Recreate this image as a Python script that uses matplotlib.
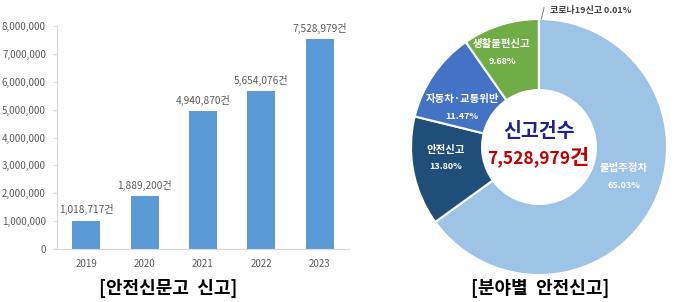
import numpy as np
import matplotlib
matplotlib.use('Agg')
import matplotlib.pyplot as plt

plt.rcParams['font.family'] = ['Noto Sans CJK KR', 'DejaVu Sans']

# left: yearly reports
years = ['2019', '2020', '2021', '2022', '2023']
reports = [1018717, 1889200, 4940870, 5654076, 7528979]

# right: share by field (2023)
fields = ['불법주정차', '안전신고', '자동차·교통위반', '생활불편신고', '코로나19신고']
shares = [65.03, 13.80, 11.47, 9.68, 0.01]
colors = ['#9DC3E6', '#1F4E79', '#4472C4', '#70AD47', '#FFC000']

fig = plt.figure(figsize=(6.8, 3.02), dpi=100)

# ---- bar chart
ax = fig.add_axes([57 / 680, 53 / 302, 292 / 680, 223 / 302])
x = np.arange(len(years))
ax.bar(x, reports, width=0.48, color='#5B9BD5')
for xi, v in zip(x, reports):
    ax.text(xi, v + 200000, f'{v:,}건', ha='center', va='bottom',
            fontsize=7.3, color='#595959')
ax.set_xlim(-0.5, 4.5)
ax.set_ylim(0, 8000000)
ax.set_yticks(range(0, 8000001, 1000000))
ax.set_yticklabels([f'{t:,}' for t in range(0, 8000001, 1000000)])
ax.set_xticks(x)
ax.set_xticklabels(years)
ax.tick_params(axis='y', labelsize=7, colors='#595959', length=3,
               color='#D9D9D9', pad=5)
ax.tick_params(axis='x', labelsize=7, colors='#595959', length=0, pad=7)
for s in ['top', 'right']:
    ax.spines[s].set_visible(False)
for s in ['left', 'bottom']:
    ax.spines[s].set_color('#D9D9D9')
fig.text(168 / 680, 1 - 288 / 302, '[안전신문고  신고]', ha='center', va='center',
         fontsize=13, fontweight='bold')

# ---- donut
ax2 = fig.add_axes([411 / 680, 27 / 302, 256 / 680, 256 / 302])
wedges, _ = ax2.pie(shares, colors=colors, startangle=90, counterclock=False,
                    radius=1, wedgeprops=dict(width=0.555, edgecolor='white',
                                              linewidth=1.5))
ax2.set_xlim(-1, 1)
ax2.set_ylim(-1, 1)
ax2.axis('off')

# label anchor for each slice (centre of the two-line block)
label_pos = [(0.66, -0.23), (-0.73, -0.085), (-0.60, 0.31), (-0.29, 0.74)]
for (px, py), name, sh in zip(label_pos, fields[:-1], shares[:-1]):
    ax2.text(px, py + 0.065, name, ha='center', va='center', color='white',
             fontsize=7.5, fontweight='bold')
    ax2.text(px, py - 0.07, f'{sh:.2f}%', ha='center', va='center', color='white',
             fontsize=6.5, fontweight='bold')

# tiny slice with leader line
ax2.plot([0.04, 0.018], [1.09, 1.0], color='#7F7F7F', lw=0.7, clip_on=False)
ax2.text(0.085, 1.065, f'{fields[-1]} {shares[-1]:.2f}%', ha='left', va='center',
         fontsize=6.5, fontweight='bold', color='#404040', clip_on=False)

ax2.text(0.0, 0.12, '신고건수', ha='center', va='center', fontsize=14,
         fontweight='bold', color='#1F1F8F')
ax2.text(0.24, -0.085, f'{reports[-1]:,}', ha='right', va='center', fontsize=12.5,
         fontweight='bold', color='#C00000')
ax2.text(0.24, -0.08, '건', ha='left', va='center', fontsize=15,
         fontweight='bold', color='#C00000')

fig.text(540 / 680, 1 - 288 / 302, '[분야별  안전신고]', ha='center', va='center',
         fontsize=13, fontweight='bold')

fig.savefig('out.png', dpi=100)
